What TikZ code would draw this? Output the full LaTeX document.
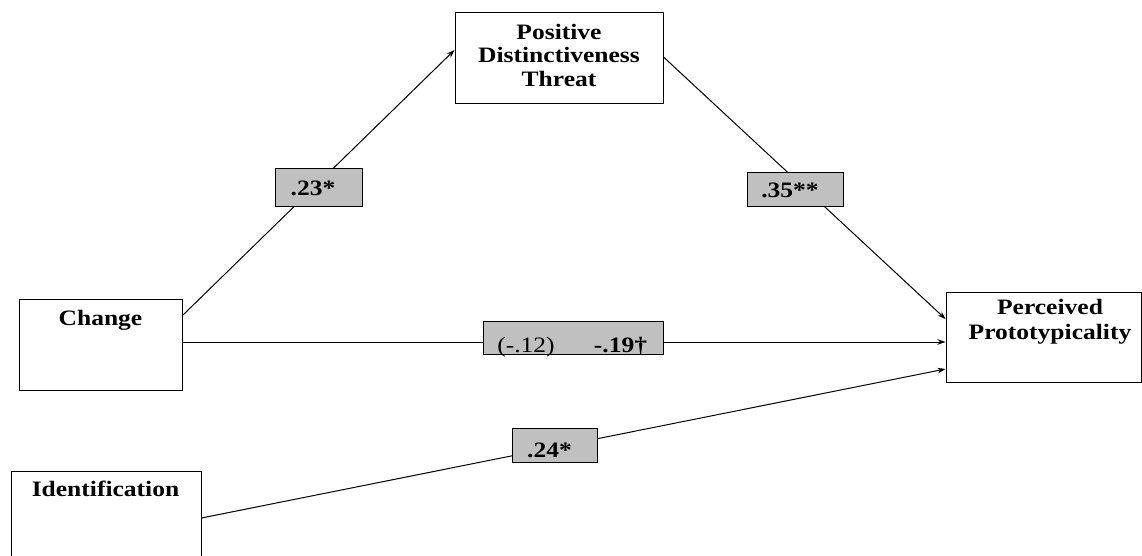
\documentclass[tikz,border=0pt]{standalone}
\usepackage{fontspec}
\setmainfont{Liberation Serif}[FakeStretch=1.16]
\usetikzlibrary{arrows.meta,calc}
\definecolor{coefgray}{RGB}{192,192,192}

\begin{document}
\begin{tikzpicture}[x=1pt,y=-1pt,
  box/.style={draw=black,line width=1pt,inner sep=0pt},
  coef/.style={draw=black,fill=coefgray,line width=1pt,inner sep=0pt},
  lbl/.style={font=\fontsize{22}{24}\selectfont\bfseries,inner sep=0pt},
  num/.style={font=\fontsize{22}{24}\selectfont,inner sep=0pt},
  link/.style={line width=1pt,-{Stealth[length=8pt,width=5.5pt]}}]

\useasboundingbox (0,0) rectangle (1142,556);
\clip (0,0) rectangle (1142,556);

% variable boxes
\node[box,minimum width=208pt,minimum height=91pt] (pdt) at (559,58.5) {};
\node[box,minimum width=163pt,minimum height=91pt] (chg) at (100.5,344.5) {};
\node[box,minimum width=190pt,minimum height=129pt] (idn) at (106,535.5) {};
\node[box,minimum width=195pt,minimum height=90pt] (pp) at (1043.5,337) {};

% paths
\draw[link] ($(chg.north east)+(0,17)$) -- ($(pdt.west)+(0,-8.5)$);
\draw[link] ($(pdt.east)+(0,-1.5)$) -- ($(pp.west)+(0,-18)$);
\draw[link] ($(chg.east)+(0,-2.5)$) -- ($(pp.west)+(0,5)$);
\draw[link] ($(idn.east)+(0,-17.5)$) -- ($(pp.west)+(0,32)$);

% coefficient boxes
\node[coef,minimum width=87pt,minimum height=37pt] (c23) at (318.5,187.5) {};
\node[coef,minimum width=96pt,minimum height=33pt] (c35) at (795,189.5) {};
\node[coef,minimum width=180pt,minimum height=33pt] (cdir) at (573,337.5) {};
\node[coef,minimum width=85pt,minimum height=34pt] (c24) at (554.5,445) {};

% variable names
\node[lbl,align=center,font=\fontsize{22}{23.5}\selectfont\bfseries] (pdtt) at (559,55) {Positive\\Distinctiveness\\Threat};
\node[lbl,anchor=base] (chgt) at (100.5,325) {Change};
\node[lbl,anchor=base] (idnt) at (105.5,496) {Identification};
\node[lbl,align=center,font=\fontsize{22}{25}\selectfont\bfseries] (ppt) at (1050,322) {Perceived\\Prototypicality};

% coefficients
\node[lbl,anchor=base] (t23) at (313,196) {.23*};
\node[lbl,anchor=base] (t35) at (790,197) {.35**};
\node[num,anchor=base] (t12) at (526,352) {(-.12)};
\node[lbl,anchor=base] (t19) at (620.5,352) {-.19†};
\node[lbl,anchor=base] (t24) at (549.5,457) {.24*};
\end{tikzpicture}
\end{document}
